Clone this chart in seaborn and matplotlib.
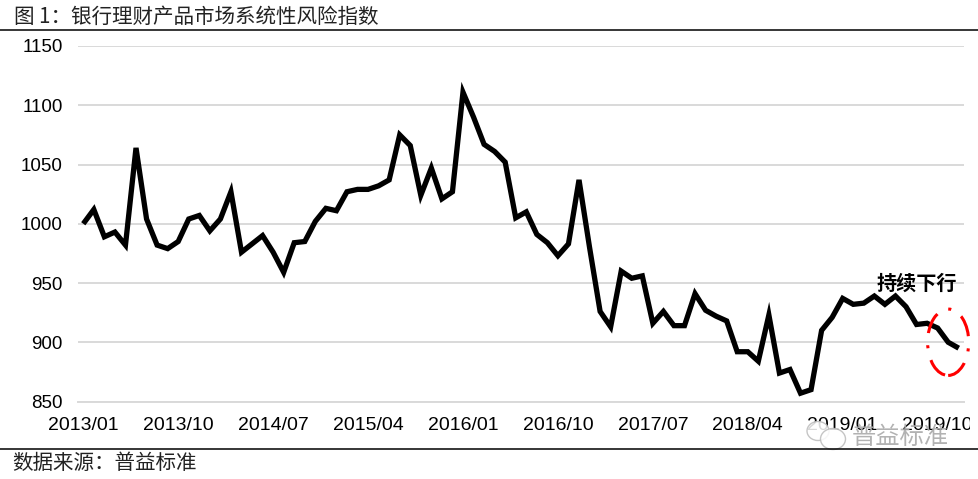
import numpy as np
import pandas as pd
import matplotlib
matplotlib.use("Agg")
import matplotlib.pyplot as plt
import seaborn as sns
from matplotlib.lines import Line2D
from matplotlib.patches import Ellipse
from matplotlib.transforms import Bbox

# ==============================================================
# DATA
# ==============================================================
index_values = [
    1000, 1012, 989, 993, 982, 1064, 1004, 982, 979, 985, 1004, 1007,
    994, 1004, 1027, 976, 983, 990, 976, 959, 984, 985, 1002, 1013,
    1011, 1027, 1029, 1029, 1032, 1037, 1075, 1066, 1024, 1047, 1021, 1027,
    1111, 1090, 1067, 1061, 1052, 1005, 1010, 991, 984, 973, 983, 1037,
    980, 926, 913, 960, 954, 956, 916, 926, 914, 914, 941, 927,
    922, 918, 892, 892, 884, 923, 874, 877, 857, 860, 910, 921,
    937, 932, 933, 939, 932, 939, 930, 915, 916, 912, 900, 895,
]
tick_labels = ["2013/01", "2013/10", "2014/07", "2015/04", "2016/01",
               "2016/10", "2017/07", "2018/04", "2019/01", "2019/10"]
y_ticks = [850, 900, 950, 1000, 1050, 1100, 1150]

title = "图 1\uff1a银行理财产品市场系统性风险指数"
source = "数据来源\uff1a普益标准"
note = "持续下行"
watermark = "普益标准"

# ==============================================================
# STYLE
# ==============================================================
W, H = 979, 479
GREY = "#D9D9D9"

sns.set_theme(style="white")
plt.rcParams["font.family"] = ["Liberation Sans", "Noto Sans CJK SC", "DejaVu Sans"]
CJK = ["Noto Sans CJK SC", "DejaVu Sans"]

df = pd.DataFrame({"idx": np.arange(len(index_values)), "value": index_values})

fig = plt.figure(figsize=(W / 100, H / 100), dpi=100, facecolor="white")
ax = fig.add_axes([78 / W, 1 - 401.5 / H, (964 - 78) / W, (401.5 - 46) / H])

ax.yaxis.grid(True, color=GREY, linewidth=1.4)
ax.set_axisbelow(True)
sns.lineplot(data=df, x="idx", y="value", ax=ax, color="black", linewidth=3.8,
             sort=False, errorbar=None)
ax.lines[-1].set_solid_joinstyle("miter")
ax.lines[-1].set_solid_capstyle("butt")

ax.set_xlim(-0.5, len(index_values) - 0.5)
ax.set_ylim(850, 1150)
ax.set_xlabel("")
ax.set_ylabel("")

# labels sit on the month, tick marks between months
label_pos = np.arange(len(tick_labels)) * 9
ax.set_xticks(label_pos, tick_labels)
ax.set_xticks(label_pos - 0.5, minor=True)
ax.tick_params(axis="x", which="major", length=0, labelsize=14, colors="black", pad=11)
ax.tick_params(axis="x", which="minor", length=5, width=1.4, color=GREY)
ax.set_yticks(y_ticks)
ax.tick_params(axis="y", length=0, labelsize=13.5, colors="black", pad=11)

for side in ["top", "right", "left"]:
    ax.spines[side].set_visible(False)
ax.spines["bottom"].set_color(GREY)
ax.spines["bottom"].set_linewidth(1.4)

# last label is cut off in the original
ax.get_xticklabels()[-1].set_clip_on(True)
ax.get_xticklabels()[-1].set_clip_box(Bbox([[0, 0], [970, H]]))

# red ring + note
ax.add_patch(Ellipse((82, 900), 3.9, 56, fill=False, edgecolor="red", linewidth=2.2,
                     linestyle=(0, (7, 4, 1, 4)), clip_on=False, zorder=5))
ax.text(79, 950, note, family=CJK, fontsize=14.5, fontweight="bold", color="black",
        ha="center", va="center", zorder=6)

# ==============================================================
# HEADER / FOOTER
# ==============================================================
fig.add_artist(Line2D([0, 1], [1 - 30 / H] * 2, color="black", linewidth=1.1))
fig.add_artist(Line2D([0, 1], [1 - 449 / H] * 2, color="black", linewidth=1.1))
fig.text(14 / W, 1 - 17 / H, title, family=CJK, fontsize=14.8, color="#222222",
         ha="left", va="center")
fig.text(12 / W, 1 - 463 / H, source, family=CJK, fontsize=14.8, color="#222222",
         ha="left", va="center")

# watermark
for cx, cy, w, h in [(818, 431, 22, 19), (833, 439, 25, 21)]:
    fig.add_artist(Ellipse((cx / W, 1 - cy / H), w / W, h / H, facecolor="white",
                           edgecolor="#BBBBBB", linewidth=1.0, alpha=0.85))
fig.text(900 / W, 1 - 437 / H, watermark, family=CJK, fontsize=17.5, color="#AAAAAA",
         ha="center", va="center", alpha=0.9)

fig.savefig("out.png", dpi=100)
